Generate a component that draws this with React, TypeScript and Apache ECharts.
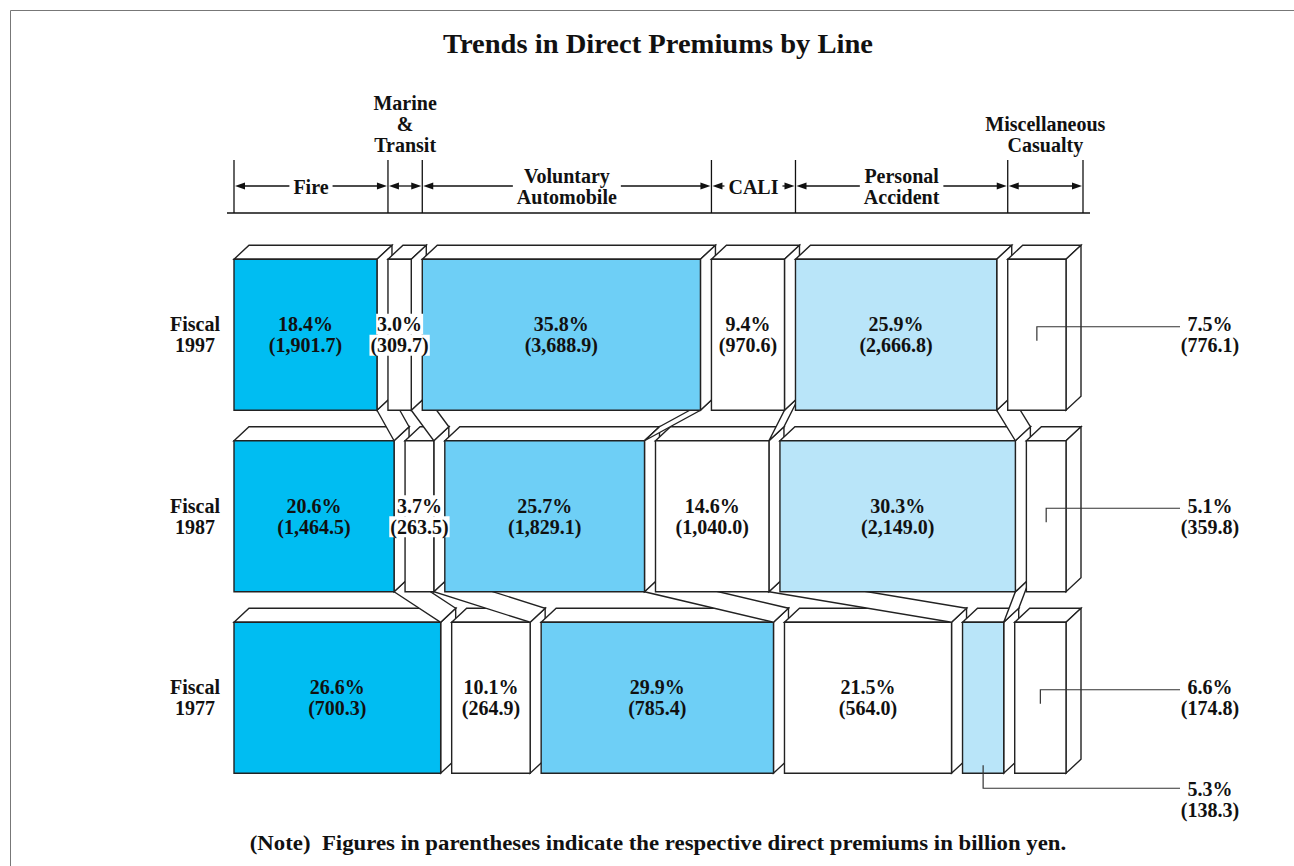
import React, { useEffect, useRef } from 'react';
import * as echarts from 'echarts';

// ---- data ----
const lines = ['Fire', 'Marine & Transit', 'Voluntary Automobile', 'CALI', 'Personal Accident', 'Miscellaneous Casualty'];
const headerLabels = ['Fire', 'Marine\n&\nTransit', 'Voluntary\nAutomobile', 'CALI', 'Personal\nAccident', 'Miscellaneous\nCasualty'];
const years = ['Fiscal\n1977', 'Fiscal\n1987', 'Fiscal\n1997'];
const share1977 = [26.6, 10.1, 29.9, 21.5, 5.3, 6.6];
const premium1977 = [700.3, 264.9, 785.4, 564.0, 138.3, 174.8];
const share1987 = [20.6, 3.7, 25.7, 14.6, 30.3, 5.1];
const premium1987 = [1464.5, 263.5, 1829.1, 1040.0, 2149.0, 359.8];
const share1997 = [18.4, 3.0, 35.8, 9.4, 25.9, 7.5];
const premium1997 = [1901.7, 309.7, 3688.9, 970.6, 2666.8, 776.1];
const lineColors = ['#00BDF2', '#FFFFFF', '#6ECFF6', '#FFFFFF', '#B9E5F9', '#FFFFFF'];
// labels drawn outside the box: key "row-line"
const callouts: Record<string, string> = { '2-5': 'right', '1-5': 'right', '0-5': 'right', '0-4': 'below' };
const titleText = 'Trends in Direct Premiums by Line';
const noteText = '(Note)  Figures in parentheses indicate the respective direct premiums in billion yen.';

const shares = [share1977, share1987, share1997];
const premiums = [premium1977, premium1987, premium1997];
const cum = shares.map((s) => {
  let a = 0;
  return s.map((v) => {
    const st = a;
    a += v;
    return [st, a];
  });
});

const GAP = 11;
const DX = 15;
const DY = 14;
const FONT = '"Liberation Serif", "Times New Roman", Times, serif';
const INK = '#111111';
const EDGE = '#222222';
const LABEL_X = 1210;

let measureCtx: CanvasRenderingContext2D | null = null;
function measure(text: string, size = 20) {
  if (!measureCtx) measureCtx = document.createElement('canvas').getContext('2d');
  measureCtx!.font = `bold ${size}px ${FONT}`;
  return Math.max(...text.split('\n').map((t) => measureCtx!.measureText(t).width));
}

function fmtPrem(v: number) {
  return '(' + v.toLocaleString('en-US', { minimumFractionDigits: 1, maximumFractionDigits: 1 }) + ')';
}

function textEl(text: string, x: number, y: number, opts: any = {}) {
  return {
    type: 'text',
    z2: 200,
    style: {
      text,
      x,
      y,
      align: opts.align || 'center',
      verticalAlign: opts.verticalAlign || 'middle',
      fill: INK,
      fontSize: opts.fontSize || 20,
      fontWeight: 'bold',
      fontFamily: FONT,
      lineHeight: 21,
      backgroundColor: opts.bg,
      padding: opts.bg ? [0, 1, 0, 1] : 0,
    },
  };
}

function renderItem(params: any, api: any) {
  const row = api.value(2);
  const c = api.value(3);
  const band = api.size([0, 1])[1];
  const h = band * 0.832;
  const geom = (r: number, k: number) => {
    const [s, e] = cum[r][k];
    const p0 = api.coord([s, r]);
    const p1 = api.coord([e, r]);
    return { x0: p0[0] + k * GAP, x1: p1[0] + k * GAP, top: p0[1] - h / 2, bottom: p0[1] + h / 2, cy: p0[1] };
  };
  const g = geom(row, c);
  const base = 10 + row * 20;
  const children: any[] = [];
  const edgeStyle = { stroke: EDGE, lineWidth: 1.4 };

  // ribbon joining this line's right edge with the row below
  if (row > 0 && c < lines.length - 1) {
    const lo = geom(row - 1, c);
    children.push({
      type: 'polygon',
      z2: base - 1,
      shape: { points: [[g.x1, g.bottom], [g.x1 + DX, g.bottom - DY], [lo.x1 + DX, lo.top - DY], [lo.x1, lo.top]] },
      style: { fill: '#FFFFFF', ...edgeStyle },
    });
  }
  // box
  children.push({
    type: 'polygon',
    z2: base + c,
    shape: { points: [[g.x0, g.top], [g.x0 + DX, g.top - DY], [g.x1 + DX, g.top - DY], [g.x1, g.top]] },
    style: { fill: '#FFFFFF', ...edgeStyle },
  });
  children.push({
    type: 'polygon',
    z2: base + c,
    shape: { points: [[g.x1, g.top], [g.x1 + DX, g.top - DY], [g.x1 + DX, g.bottom - DY], [g.x1, g.bottom]] },
    style: { fill: '#FFFFFF', ...edgeStyle },
  });
  children.push({
    type: 'rect',
    z2: base + c,
    shape: { x: g.x0, y: g.top, width: g.x1 - g.x0, height: g.bottom - g.top },
    style: { fill: lineColors[c], ...edgeStyle },
  });

  // value labels
  const pct = shares[row][c].toFixed(1) + '%';
  const prem = fmtPrem(premiums[row][c]);
  const cx = (g.x0 + g.x1) / 2;
  const callout = callouts[row + '-' + c];
  if (!callout) {
    const narrow = measure(prem) > g.x1 - g.x0 - 4;
    const bg = narrow ? '#FFFFFF' : undefined;
    children.push(textEl(pct, cx, g.cy - 10.5, { bg }));
    children.push(textEl(prem, cx, g.cy + 10.5, { bg }));
  } else if (callout === 'right') {
    const ly = g.cy - 8;
    children.push({
      type: 'polyline',
      z2: 200,
      shape: { points: [[cx, ly + 14], [cx, ly], [LABEL_X - 30, ly]] },
      style: { stroke: '#333333', lineWidth: 1.2, fill: 'none' },
    });
    children.push(textEl(pct, LABEL_X, g.cy - 10.5));
    children.push(textEl(prem, LABEL_X, g.cy + 10.5));
  } else {
    const ly = g.bottom + 15;
    children.push({
      type: 'polyline',
      z2: 200,
      shape: { points: [[cx, g.bottom - 8], [cx, ly], [LABEL_X - 30, ly]] },
      style: { stroke: '#333333', lineWidth: 1.2, fill: 'none' },
    });
    children.push(textEl(pct, LABEL_X, ly + 1));
    children.push(textEl(prem, LABEL_X, ly + 22));
  }

  // header dimension marks above the top row
  if (row === years.length - 1) {
    const HY = 186;
    const HT = 160;
    const HB = 213;
    const xl = g.x0;
    const last = c === lines.length - 1;
    const xr = last ? g.x1 + DX + 2 : geom(row, c + 1).x0;
    const lineStyle = { stroke: '#111111', lineWidth: 1.3 };
    children.push({ type: 'line', z2: 200, shape: { x1: xl, y1: HT, x2: xl, y2: HB }, style: lineStyle });
    if (last) {
      children.push({ type: 'line', z2: 200, shape: { x1: xr, y1: HT, x2: xr, y2: HB }, style: lineStyle });
      const first = geom(row, 0).x0;
      children.push({ type: 'line', z2: 200, shape: { x1: first - 7, y1: HB, x2: xr + 7, y2: HB }, style: lineStyle });
    }
    children.push({
      type: 'polygon',
      z2: 200,
      shape: { points: [[xl + 1, HY], [xl + 11, HY - 3.5], [xl + 11, HY + 3.5]] },
      style: { fill: '#111111' },
    });
    children.push({
      type: 'polygon',
      z2: 200,
      shape: { points: [[xr - 1, HY], [xr - 11, HY - 3.5], [xr - 11, HY + 3.5]] },
      style: { fill: '#111111' },
    });
    const lbl = headerLabels[c];
    const hx = (xl + xr) / 2;
    const multi = lbl.indexOf('\n') >= 0;
    if (multi && xr - xl < 100) {
      children.push(textEl(lbl, hx, 155.5, { verticalAlign: 'bottom' }));
      children.push({ type: 'line', z2: 200, shape: { x1: xl + 5, y1: HY, x2: xr - 5, y2: HY }, style: lineStyle });
    } else {
      const tw = measure(lbl);
      const pad = 4;
      children.push(textEl(lbl, hx, HY + 0.5));
      children.push({ type: 'line', z2: 200, shape: { x1: xl + 5, y1: HY, x2: hx - tw / 2 - pad, y2: HY }, style: lineStyle });
      children.push({ type: 'line', z2: 200, shape: { x1: hx + tw / 2 + pad, y1: HY, x2: xr - 5, y2: HY }, style: lineStyle });
    }
  }

  return { type: 'group', children };
}

export default function App() {
  const ref = useRef<HTMLDivElement>(null);
  useEffect(() => {
    if (!ref.current) return;
    const chart = echarts.init(ref.current, undefined, { renderer: 'svg' });
    const data: any[] = [];
    shares.forEach((s, r) => {
      s.forEach((_, k) => {
        data.push({ name: lines[k], value: [cum[r][k][0], cum[r][k][1], r, k] });
      });
    });
    chart.setOption({
      animation: false,
      backgroundColor: '#FFFFFF',
      grid: { left: 234, width: 777, top: 244, height: 544.5 },
      xAxis: { type: 'value', min: 0, max: 100, show: false },
      yAxis: {
        type: 'category',
        data: years,
        axisLine: { show: false },
        axisTick: { show: false },
        splitLine: { show: false },
        axisLabel: {
          align: 'center',
          margin: 39,
          fontSize: 20,
          fontWeight: 'bold',
          fontFamily: FONT,
          color: INK,
          lineHeight: 21,
        },
      },
      graphic: [
        {
          type: 'rect',
          shape: { x: 10.5, y: 10.5, width: 1400, height: 1000 },
          style: { fill: 'none', stroke: '#777777', lineWidth: 1 },
          silent: true,
        },
        {
          type: 'text',
          x: 658,
          y: 44,
          scaleX: 1.02,
          style: { text: titleText, align: 'center', verticalAlign: 'middle', fill: INK, fontSize: 28, fontWeight: 'bold', fontFamily: FONT },
        },
        {
          type: 'text',
          x: 658,
          y: 843,
          scaleX: 1.14,
          style: { text: noteText, align: 'center', verticalAlign: 'middle', fill: INK, fontSize: 20, fontWeight: 'bold', fontFamily: FONT },
        },
      ],
      series: [
        {
          type: 'custom',
          renderItem,
          data,
          encode: { x: [0, 1], y: 2 },
          clip: false,
        },
      ],
    });
    return () => chart.dispose();
  }, []);
  return <div ref={ref} style={{ position: 'absolute', left: 0, top: 0, width: 1294, height: 866 }} />;
}
